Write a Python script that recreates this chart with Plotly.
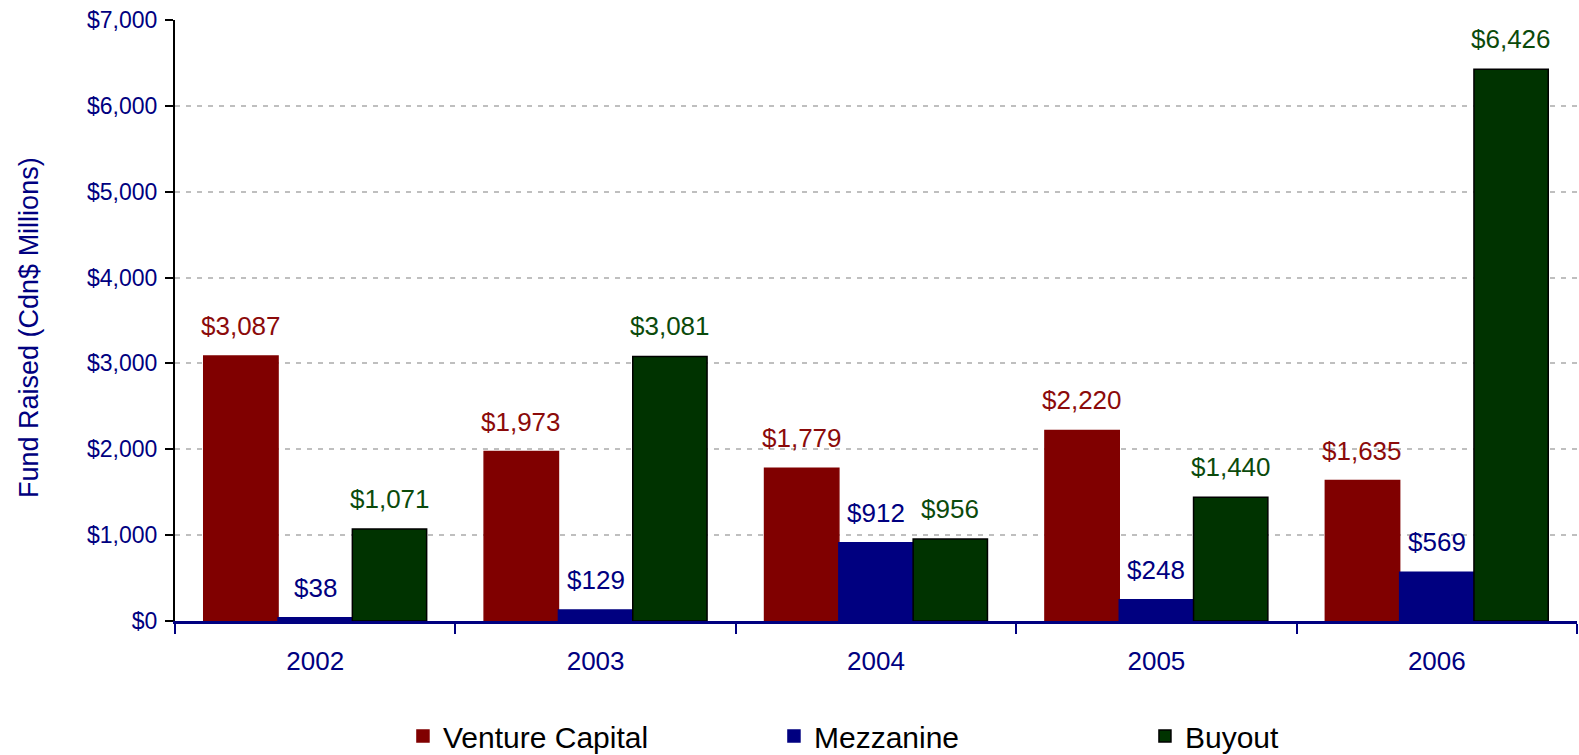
import plotly.graph_objects as go

years = ["2002", "2003", "2004", "2005", "2006"]
venture_capital = [3087, 1973, 1779, 2220, 1635]
mezzanine = [38, 129, 912, 248, 569]
buyout = [1071, 3081, 956, 1440, 6426]
y_ticks = [0, 1000, 2000, 3000, 4000, 5000, 6000, 7000]

series = [
    ("Venture Capital", venture_capital, "#800000", "#800000", "#8B0A0A"),
    ("Mezzanine", mezzanine, "#000080", "#000080", "#000080"),
    ("Buyout", buyout, "#003300", "#000000", "#0B4A0B"),
]

L, R, T, B = 175, 2, 20, 134
W, H = 1579, 755
plot_w = W - L - R
plot_h = H - T - B
bargap = 0.205
bar_w = plot_w / len(years) * (1 - bargap) / len(series)

fig = go.Figure()
annotations = []
for i, (name, vals, fill, line, tcol) in enumerate(series):
    fig.add_trace(go.Bar(
        name=name, x=years, y=vals,
        marker=dict(color=fill, line=dict(color=line, width=1.5)),
    ))
    for j, v in enumerate(vals):
        annotations.append(dict(
            x=j, y=v, xref="x", yref="y", text=f"${v:,}", showarrow=False,
            xshift=(i - 1) * bar_w, yshift=13, yanchor="bottom", xanchor="center",
            font=dict(family="Arial, Liberation Sans", size=26, color=tcol),
        ))

# y-axis title
annotations.append(dict(
    text="Fund Raised (Cdn$ Millions)", xref="paper", yref="paper",
    x=(29 - L) / plot_w, y=(H - B - 328) / plot_h, xanchor="center", yanchor="middle",
    textangle=-90, showarrow=False,
    font=dict(family="Arial, Liberation Sans", size=27, color="#000080"),
))

fig.update_layout(
    width=W, height=H,
    barmode="group", bargap=bargap, bargroupgap=0,
    plot_bgcolor="white", paper_bgcolor="white",
    margin=dict(l=L, r=R, t=T, b=B, autoexpand=False),
    font=dict(family="Arial, Liberation Sans", color="#000080"),
    showlegend=True,
    legend=dict(
        orientation="h", x=0.1626, xanchor="left", y=-115 / plot_h, yanchor="middle",
        font=dict(family="Arial, Liberation Sans", size=30, color="#000000"),
        entrywidth=326, entrywidthmode="pixels", traceorder="normal",
    ),
    annotations=annotations,
)
fig.update_yaxes(
    range=[0, 7000], tickvals=y_ticks, ticktext=[f"${v:,}" for v in y_ticks],
    showgrid=True, gridcolor="#BFBFBF", griddash="5px,6px", gridwidth=2,
    showline=True, linecolor="#000000", linewidth=2,
    ticks="outside", ticklen=8, tickcolor="#000000", tickwidth=2,
    ticklabelstandoff=3,
    tickfont=dict(size=23, color="#000080"),
    zeroline=False,
)
fig.update_xaxes(
    type="category", range=[-0.5, len(years) - 0.5],
    showline=True, linecolor="#000080", linewidth=2.5,
    ticks="outside", tickson="boundaries", ticklen=10, tickcolor="#000080", tickwidth=2,
    ticklabelstandoff=15,
    tickfont=dict(size=26, color="#000080"),
    showgrid=False,
)

fig.write_html("out.html", config={"displayModeBar": False},
               post_script="document.body.style.margin='0';")
